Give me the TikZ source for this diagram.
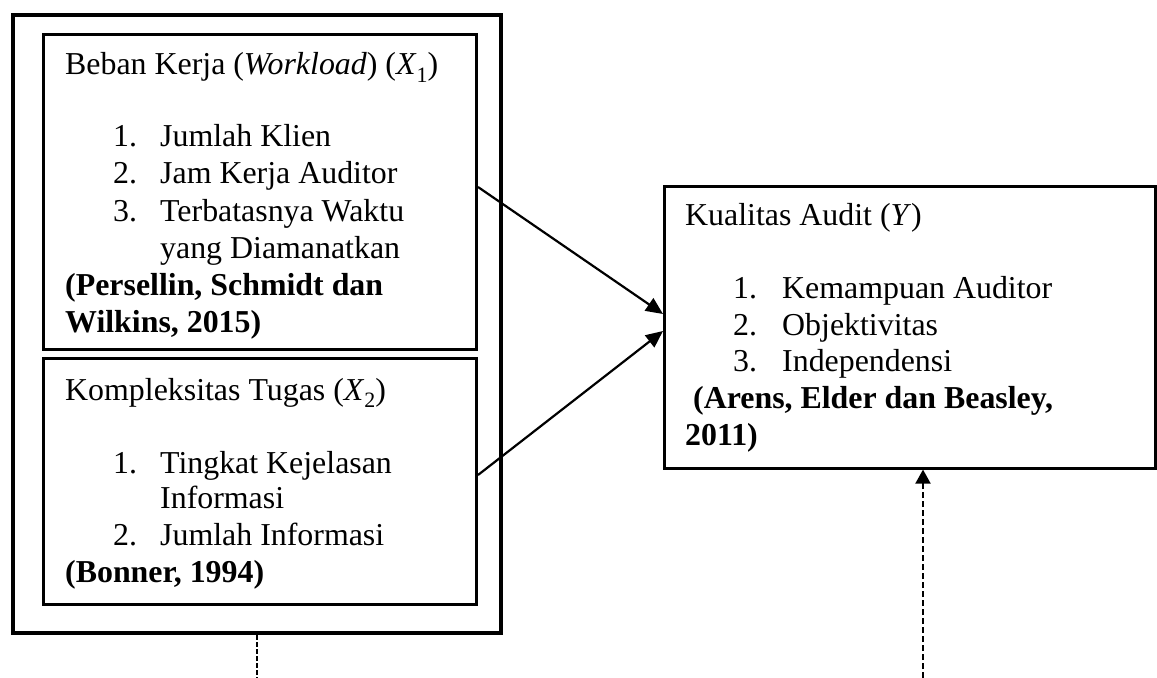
\documentclass[tikz,border=0pt]{standalone}
\usepackage{fontspec}
\setmainfont{Liberation Serif}
\usetikzlibrary{arrows.meta}
\newcommand{\sub}[1]{\raisebox{-0.22em}{\fontsize{22}{22}\selectfont #1}}
\tikzset{
  txt/.style={anchor=base west, inner sep=0pt, font=\fontsize{32}{37}\selectfont},
  btxt/.style={txt, font=\bfseries\fontsize{32}{37}\selectfont},
  outerbox/.style={draw, line width=4bp, anchor=north west, inner sep=0pt},
  innerbox/.style={draw, line width=3bp, anchor=north west, inner sep=0pt},
  ybox/.style={draw, line width=2.6bp, anchor=north west, inner sep=0pt},
  arr/.style={line width=2.2bp, -{Triangle[length=17bp,width=15bp]}},
  dasharr/.style={line width=2bp, dash pattern=on 6bp off 3bp, -{Triangle[length=14bp,width=15bp]}},
  dashline/.style={line width=1.5bp, dash pattern=on 5bp off 2bp}
}
\begin{document}
\begin{tikzpicture}[x=1bp,y=-1bp]
\useasboundingbox (0,0) rectangle (1157,678);
% boxes
\node[outerbox, minimum width=488bp, minimum height=618bp] (outer) at (11,13) {};
\node[innerbox, minimum width=433bp, minimum height=315bp] (b1) at (42,33) {};
\node[innerbox, minimum width=433bp, minimum height=246bp] (b2) at (42,357) {};
\node[ybox, minimum width=491bp, minimum height=282bp] (by) at (663,185) {};
% box 1 text
\node[txt] (t1) at (65,75) {Beban Kerja (\textit{Workload}) (\textit{X}\sub{1})};
\node[txt] (n11) at (113,147) {1.};
\node[txt] (i11) at (160,147) {Jumlah Klien};
\node[txt] (n12) at (113,184) {2.};
\node[txt] (i12) at (160,184) {Jam Kerja Auditor};
\node[txt] (n13) at (113,222) {3.};
\node[txt] (i13) at (160,222) {Terbatasnya Waktu};
\node[txt] (i13b) at (160,258) {yang Diamanatkan};
\node[btxt] (r1a) at (65,295) {(Persellin, Schmidt dan};
\node[btxt] (r1b) at (65,332) {Wilkins, 2015)};
% box 2 text
\node[txt] (t2) at (65,400) {Kompleksitas Tugas (\textit{X}\sub{2})};
\node[txt] (n21) at (113,473) {1.};
\node[txt] (i21) at (160,473) {Tingkat Kejelasan};
\node[txt] (i21b) at (160,508) {Informasi};
\node[txt] (n22) at (113,545) {2.};
\node[txt] (i22) at (160,545) {Jumlah Informasi};
\node[btxt] (r2) at (65,582) {(Bonner, 1994)};
% box Y text
\node[txt] (ty) at (685,226) {Kualitas Audit (\textit{Y})};
\node[txt] (ny1) at (733,298) {1.};
\node[txt] (iy1) at (782,298) {Kemampuan Auditor};
\node[txt] (ny2) at (733,335) {2.};
\node[txt] (iy2) at (782,335) {Objektivitas};
\node[txt] (ny3) at (733,371) {3.};
\node[txt] (iy3) at (782,371) {Independensi};
\node[btxt] (rya) at (693,408) {(Arens, Elder dan Beasley,};
\node[btxt] (ryb) at (685,445) {2011)};
% connectors
\coordinate (s1) at (b1.east |- 0,187);
\coordinate (e1) at (by.west |- 0,314);
\coordinate (s2) at (b2.east |- 0,475);
\coordinate (e2) at (by.west |- 0,331);
\draw[arr] (s1) -- (e1);
\draw[arr] (s2) -- (e2);
\coordinate (dl1) at (257,635);
\coordinate (dl2) at (257,678);
\draw[dashline] (dl1) -- (dl2);
\coordinate (dr1) at (923,678);
\draw[dasharr] (dr1) -- (by.south -| dr1);
\end{tikzpicture}
\end{document}
